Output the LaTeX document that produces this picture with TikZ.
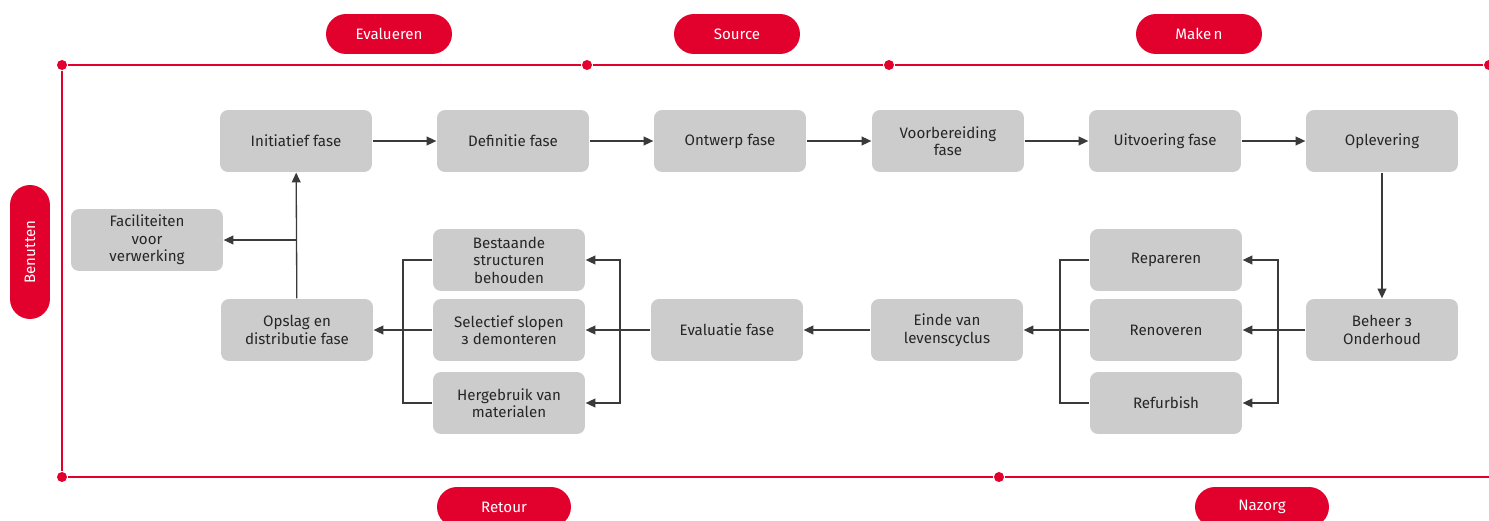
\documentclass[tikz,border=0pt]{standalone}
\usepackage{fontspec}
\setmainfont{Fira Sans}
\usetikzlibrary{arrows.meta}
\definecolor{brandred}{HTML}{E2002D}
\definecolor{boxgray}{HTML}{CCCCCC}
\definecolor{linegray}{HTML}{3A3A3A}
\tikzset{
  fase/.style={fill=boxgray, rounded corners=0.16cm, minimum width=3.04cm,
    minimum height=1.24cm, align=center, text=black!85,
    font=\fontsize{8.6}{10}\selectfont},
  pill/.style={fill=brandred, rounded corners=0.4cm, minimum width=2.52cm,
    minimum height=0.8cm, text=white, font=\fontsize{8.6}{10}\selectfont},
  reddot/.style={circle, fill=brandred, inner sep=0pt, minimum size=0.2cm},
  redline/.style={draw=brandred, line width=1.1pt},
}
\begin{document}
\begin{tikzpicture}[x=0.02cm, y=-0.02cm, >={Triangle[length=5.5pt,width=5pt]},
  color=linegray, line width=0.75pt]
\useasboundingbox (0,0) rectangle (1489,521);
% frame
\node[reddot](tl) at (62,65) {};
\node[reddot](t1) at (587,65) {};
\node[reddot](t2) at (889,65) {};
\node[reddot](tr) at (1489,65) {};
\node[reddot](bl) at (62,477) {};
\node[reddot](b1) at (999,477) {};
\coordinate(br) at (1489,477);
\draw[redline](tl) -- (t1) -- (t2) -- (tr);
\draw[redline](tl) -- (bl);
\draw[redline](bl) -- (b1) -- (br);
%
\node[pill](evalueren) at (389,34) {Evalueren};
\node[pill](source) at (737,34) {Source};
\node[pill](maken) at (1199,34) {Make\,n};
\node[pill, minimum width=2.68cm](retour) at (504,507) {Retour};
\node[pill, minimum width=2.68cm](nazorg) at (1262,507) {Nazorg};
\node[pill, rotate=90, minimum width=2.68cm](benutten) at (30,252) {Benutten};
%
\node[fase](initiatief) at (296,141) {Initiatief fase};
\node[fase](definitie) at (513,141) {Definitie fase};
\node[fase](ontwerp) at (730,141) {Ontwerp fase};
\node[fase](voorbereiding) at (948,141) {Voorbereiding\\fase};
\node[fase](uitvoering) at (1165,141) {Uitvoering fase};
\node[fase](oplevering) at (1382,141) {Oplevering};
\draw[->](initiatief) -- (definitie);
\draw[->](definitie) -- (ontwerp);
\draw[->](ontwerp) -- (voorbereiding);
\draw[->](voorbereiding) -- (uitvoering);
\draw[->](uitvoering) -- (oplevering);
%
\node[fase](beheer) at (1382,330) {Beheer з\\Onderhoud};
\draw[->](oplevering) -- (beheer);
%
\node[fase](repareren) at (1166,260) {Repareren};
\node[fase](renoveren) at (1166,330) {Renoveren};
\node[fase](refurbish) at (1166,403) {Refurbish};
\coordinate(splitnazorg) at (1278,330);
\draw(beheer) -- (splitnazorg);
\draw[->](splitnazorg) |- (repareren);
\draw[->](splitnazorg) -- (renoveren);
\draw[->](splitnazorg) |- (refurbish);
%
\node[fase](einde) at (947,330) {Einde van\\levenscyclus};
\coordinate(joinnazorg) at (1060,330);
\draw(repareren) -| (joinnazorg) |- (refurbish);
\draw[->](renoveren) -- (einde);
%
\node[fase](evaluatie) at (727,330) {Evaluatie fase};
\draw[->](einde) -- (evaluatie);
%
\node[fase](bestaande) at (509,260) {Bestaande\\structuren\\behouden};
\node[fase](selectief) at (509,330) {Selectief slopen\\з demonteren};
\node[fase](hergebruik) at (509,403) {Hergebruik van\\materialen};
\coordinate(splitretour) at (620,330);
\draw(evaluatie) -- (splitretour);
\draw[->](splitretour) |- (bestaande);
\draw[->](splitretour) -- (selectief);
\draw[->](splitretour) |- (hergebruik);
%
\node[fase](opslag) at (297,330) {Opslag en\\distributie fase};
\coordinate(joinretour) at (403,330);
\draw(bestaande) -| (joinretour) |- (hergebruik);
\draw[->](selectief) -- (opslag);
%
\node[fase](faciliteiten) at (147,240) {Faciliteiten\\voor\\verwerking};
\coordinate(tee) at (opslag.north |- faciliteiten.east);
\draw[->](opslag) -- (initiatief);
\draw[->](tee) -- (faciliteiten);
\end{tikzpicture}
\end{document}
